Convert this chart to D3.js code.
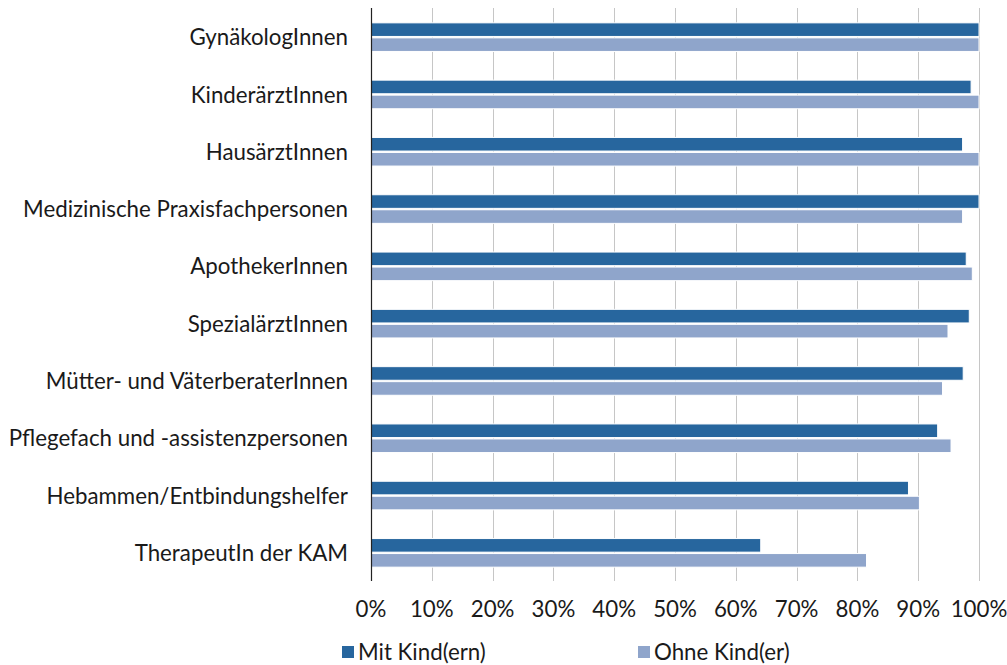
<!DOCTYPE html>
<html>
<head>
<meta charset="utf-8">
<script src="https://cdn.jsdelivr.net/npm/d3@7"></script>
<style>
  body { margin: 0; background: #fff; }
  text { font-family: Lato, "Open Sans", sans-serif; fill: #1a1a1a; }
</style>
</head>
<body>
<div id="chart"></div>
<script>
// categories, top to bottom
var categories = [
  "GynäkologInnen",
  "KinderärztInnen",
  "HausärztInnen",
  "Medizinische Praxisfachpersonen",
  "ApothekerInnen",
  "SpezialärztInnen",
  "Mütter- und VäterberaterInnen",
  "Pflegefach und -assistenzpersonen",
  "Hebammen/Entbindungshelfer",
  "TherapeutIn der KAM"
];
var seriesNames = ["Mit Kind(ern)", "Ohne Kind(er)"];
var mitKind   = [100, 98.7, 97.3, 100, 97.9, 98.4, 97.4, 93.2, 88.4, 64.1];
var ohneKind  = [100, 100, 100, 97.3, 98.9, 94.9, 94.0, 95.4, 90.2, 81.5];
var tickValues = [0, 10, 20, 30, 40, 50, 60, 70, 80, 90, 100];
var colors = ["#27669E", "#8FA5CB"];

var width = 1007, height = 665;
var plotL = 371, plotR = 979, plotT = 8, plotB = 581;
var fontSize = '22.3px';

var svg = d3.select('#chart').append('svg')
  .attr('width', width)
  .attr('height', height);

var x = d3.scaleLinear().domain([0, 100]).range([plotL, plotR]);
var y = d3.scaleBand().domain(categories).range([plotT, plotB]);
var barH = 13.6;

// vertical gridlines
svg.append('g').attr('class', 'grid')
  .selectAll('line')
  .data(tickValues.slice(1))
  .enter().append('line')
  .attr('x1', function (d) { return Math.round(x(d)) + 0.5; })
  .attr('x2', function (d) { return Math.round(x(d)) + 0.5; })
  .attr('y1', plotT)
  .attr('y2', plotB)
  .attr('stroke', '#c6c6c6')
  .attr('stroke-width', 1);

var rows = categories.map(function (c, i) {
  return { cat: c, values: [mitKind[i], ohneKind[i]] };
});

var g = svg.append('g').attr('class', 'bars');
rows.forEach(function (r) {
  var cy = y(r.cat) + y.bandwidth() / 2 + 0.5;
  r.values.forEach(function (v, j) {
    g.append('rect')
      .attr('x', x(0))
      .attr('y', j === 0 ? cy - barH - 0.7 : cy + 0.7)
      .attr('width', x(v) - x(0))
      .attr('height', barH)
      .attr('fill', colors[j])
      .attr('stroke', '#fff')
      .attr('stroke-width', 1);
  });
});

// category axis line
svg.append('line')
  .attr('x1', plotL + 0.5).attr('x2', plotL + 0.5)
  .attr('y1', plotT).attr('y2', plotB)
  .attr('stroke', '#222')
  .attr('stroke-width', 1.2);

// category labels
svg.append('g').selectAll('text')
  .data(categories)
  .enter().append('text')
  .attr('x', 348)
  .attr('y', function (d) { return y(d) + y.bandwidth() / 2 + 3; })
  .attr('text-anchor', 'end')
  .attr('dominant-baseline', 'middle')
  .style('font-size', fontSize)
  .text(function (d) { return d; });

// x tick labels
var fmt = function (d) { return d + '%'; };
svg.append('g').selectAll('text')
  .data(tickValues)
  .enter().append('text')
  .attr('x', function (d) { return x(d); })
  .attr('y', 611)
  .attr('text-anchor', 'middle')
  .attr('dominant-baseline', 'middle')
  .style('font-size', fontSize)
  .text(fmt);

// legend
var legendX = [342, 638];
var leg = svg.append('g').selectAll('g')
  .data(seriesNames)
  .enter().append('g')
  .attr('transform', function (d, i) { return 'translate(' + legendX[i] + ',652)'; });
leg.append('rect')
  .attr('x', 0).attr('y', -6)
  .attr('width', 12).attr('height', 12)
  .attr('fill', function (d, i) { return colors[i]; });
leg.append('text')
  .attr('x', 16)
  .attr('y', 2.5)
  .attr('dominant-baseline', 'middle')
  .style('font-size', fontSize)
  .text(function (d) { return d; });
</script>
</body>
</html>
